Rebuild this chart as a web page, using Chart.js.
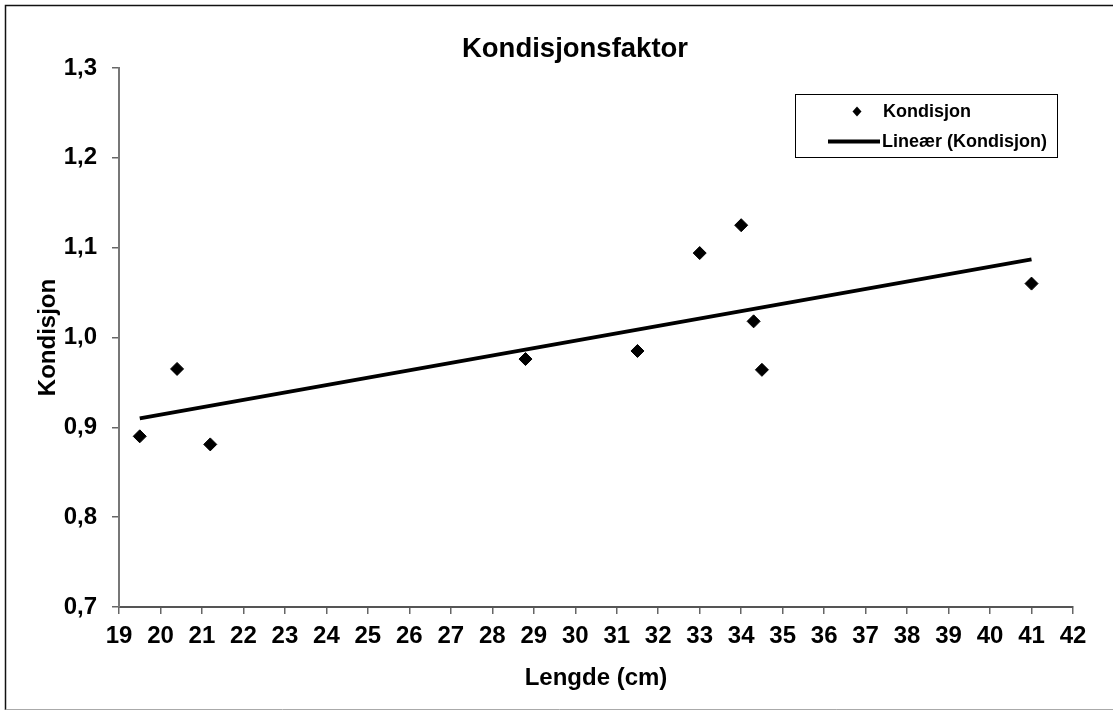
<!DOCTYPE html>
<html>
<head>
<meta charset="utf-8">
<script src="https://cdn.jsdelivr.net/npm/chart.js@4"></script>
<style>
  html, body { margin: 0; padding: 0; background: #fff; }
  #wrap { width: 1113px; height: 711px; }
</style>
</head>
<body>
<div id="wrap"><canvas id="Chart" width="1113" height="711"></canvas></div>
<script>
const chartTitle = "Kondisjonsfaktor";
const xTitle = "Lengde (cm)";
const yTitle = "Kondisjon";
const seriesName = "Kondisjon";
const trendName = "Lineær (Kondisjon)";

// lengde (cm) og kondisjon, lest av bildet
const lengths = [19.5, 20.4, 21.2, 28.8, 31.5, 33.0, 34.0, 34.3, 34.5, 41.0];
const condition = [0.890, 0.965, 0.881, 0.976, 0.985, 1.094, 1.125, 1.018, 0.964, 1.060];

// trendlinje endepunkter
const trendX = [19.5, 41.0];
const trendY = [0.910, 1.087];

const xMin = 19, xMax = 42;
const yMin = 0.7, yMax = 1.3, yStep = 0.1;

const FONT = "'Liberation Sans', Arial, sans-serif";

const points = lengths.map((x, i) => ({ x: x, y: condition[i] }));
const trend = trendX.map((x, i) => ({ x: x, y: trendY[i] }));

// ramme, tittel og legend tegnes selv
const decor = {
  id: "decor",
  beforeDraw(chart) {
    const ctx = chart.ctx;
    ctx.save();
    ctx.fillStyle = "#fff";
    ctx.fillRect(0, 0, chart.width, chart.height);
    ctx.strokeStyle = "#111";
    ctx.lineWidth = 1.5;
    ctx.beginPath();
    ctx.moveTo(5.5, 710);
    ctx.lineTo(5.5, 5.5);
    ctx.lineTo(1113, 5.5);
    ctx.stroke();
    ctx.strokeStyle = "#aaa";
    ctx.lineWidth = 1;
    ctx.beginPath();
    ctx.moveTo(5.5, 709.5);
    ctx.lineTo(1113, 709.5);
    ctx.stroke();
    ctx.restore();
  },
  afterDraw(chart) {
    const ctx = chart.ctx;
    ctx.save();
    // tittel
    ctx.fillStyle = "#000";
    ctx.font = "bold 27.5px " + FONT;
    ctx.textAlign = "center";
    ctx.textBaseline = "alphabetic";
    ctx.fillText(chartTitle, 575, 57);

    // legend
    ctx.strokeStyle = "#000";
    ctx.lineWidth = 1;
    ctx.strokeRect(795.5, 94.5, 262, 63);

    ctx.beginPath();
    ctx.moveTo(857, 106.5);
    ctx.lineTo(861.5, 111.5);
    ctx.lineTo(857, 116.5);
    ctx.lineTo(852.5, 111.5);
    ctx.closePath();
    ctx.fill();

    ctx.lineWidth = 4;
    ctx.beginPath();
    ctx.moveTo(828, 141.5);
    ctx.lineTo(880, 141.5);
    ctx.stroke();

    ctx.font = "bold 18px " + FONT;
    ctx.textAlign = "left";
    ctx.textBaseline = "middle";
    ctx.fillText(seriesName, 883, 112);
    ctx.fillText(trendName, 882, 142);
    ctx.restore();
  }
};

const ctx = document.getElementById("Chart");
new Chart(ctx, {
  type: "scatter",
  data: {
    datasets: [
      {
        label: seriesName,
        data: points,
        pointStyle: "rectRot",
        pointRadius: 6.5,
        pointHoverRadius: 6.5,
        backgroundColor: "#000",
        borderColor: "#000",
        borderWidth: 1,
        order: 1,
      },
      {
        label: trendName,
        data: trend,
        showLine: true,
        pointRadius: 0,
        borderColor: "#000",
        borderWidth: 4,
        order: 2,
      },
    ],
  },
  options: {
    responsive: false,
    animation: false,
    layout: {
      padding: { top: 68, right: 40, left: 0, bottom: 0 },
    },
    plugins: {
      legend: { display: false },
      title: { display: false },
      tooltip: { enabled: false },
    },
    scales: {
      x: {
        type: "linear",
        min: xMin,
        max: xMax,
        afterFit: (scale) => { scale.height = 104; },
        ticks: {
          stepSize: 1,
          autoSkip: false,
          maxRotation: 0,
          padding: 8,
          color: "#000",
          font: { family: FONT, size: 24, weight: "bold" },
        },
        grid: {
          drawOnChartArea: false,
          drawTicks: true,
          tickLength: 7,
          color: "#666",
          lineWidth: 1.5,
        },
        border: { display: true, color: "#555", width: 2 },
        title: {
          display: true,
          text: xTitle,
          color: "#000",
          font: { family: FONT, size: 24, weight: "bold" },
          padding: { top: 0, bottom: 18 },
        },
      },
      y: {
        type: "linear",
        min: yMin,
        max: yMax,
        afterFit: (scale) => { scale.width = 119; },
        ticks: {
          stepSize: yStep,
          padding: 15,
          color: "#000",
          font: { family: FONT, size: 24, weight: "bold" },
          callback: (value) => value.toFixed(1).replace(".", ","),
        },
        grid: {
          drawOnChartArea: false,
          drawTicks: true,
          tickLength: 7,
          color: "#666",
          lineWidth: 1.5,
        },
        border: { display: true, color: "#777", width: 2 },
        title: {
          display: true,
          text: yTitle,
          color: "#000",
          font: { family: FONT, size: 24, weight: "bold" },
          padding: { top: 34, bottom: 0 },
        },
      },
    },
  },
  plugins: [decor],
});
</script>
</body>
</html>
